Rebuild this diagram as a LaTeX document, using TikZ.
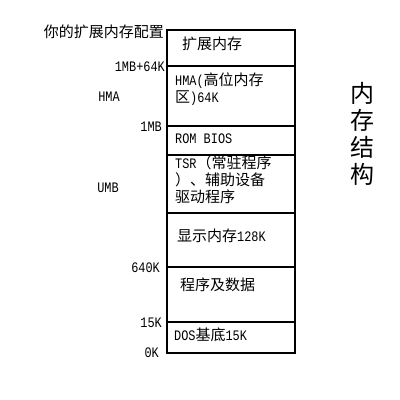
\documentclass[tikz,border=0pt]{standalone}
\usepackage{fontspec}
\setmainfont{Liberation Mono}[FakeStretch=0.82]
\newfontfamily\cjkfont{Noto Sans CJK SC}
\newcommand\zh[1]{{\fontsize{15}{17}\selectfont\cjkfont #1}}
\tikzset{
  lbl/.style={anchor=east, inner sep=0pt, font=\fontsize{14.5}{15}\selectfont},
  celltext/.style={anchor=west, inner sep=0pt, align=left, font=\fontsize{14.5}{17}\selectfont},
  memline/.style={line width=1.1pt, black},
}
\begin{document}
\begin{tikzpicture}[x=1pt,y=-1pt]
\useasboundingbox (0,0) rectangle (400,400);
\fill[white] (0,0) rectangle (400,400);
% memory column
\draw[memline] (167,30) rectangle (295,353);
\foreach \yy in {66,126,155,213,267,322}
  \draw[memline] (167,\yy) -- (295,\yy);
% cell texts
\node[celltext] (t1) at (182,44) {\zh{扩展内存}};
\node[celltext] (t2) at (175,89.5) {HMA(\zh{高位内存}\\\zh{区})64K};
\node[celltext] (t3) at (175,139) {ROM BIOS};
\node[celltext] (t4) at (175,180) {TSR\zh{（常驻程序}\\\zh{）、辅助设备}\\\zh{驱动程序}};
\node[celltext] (t5) at (177,236) {\zh{显示内存}128K};
\node[celltext] (t6) at (180,285) {\zh{程序及数据}};
\node[celltext] (t7) at (174,335) {DOS\zh{基底}15K};
% left labels
\node[lbl] (l0) at (164,32) {\zh{你的扩展内存配置}};
\node[lbl] (l1) at (165,67) {1MB+64K};
\node[lbl, anchor=center] (l2) at (109,97) {HMA};
\node[lbl] (l3) at (162,127) {1MB};
\node[lbl, anchor=center] (l4) at (108,188) {UMB};
\node[lbl] (l5) at (160,268) {640K};
\node[lbl] (l6) at (162,323) {15K};
\node[lbl] (l7) at (159,353) {0K};
% vertical title
\node[inner sep=0pt, align=center, font=\fontsize{24}{27}\selectfont\cjkfont] (title) at (362,134) {内\\存\\结\\构};
\end{tikzpicture}
\end{document}
